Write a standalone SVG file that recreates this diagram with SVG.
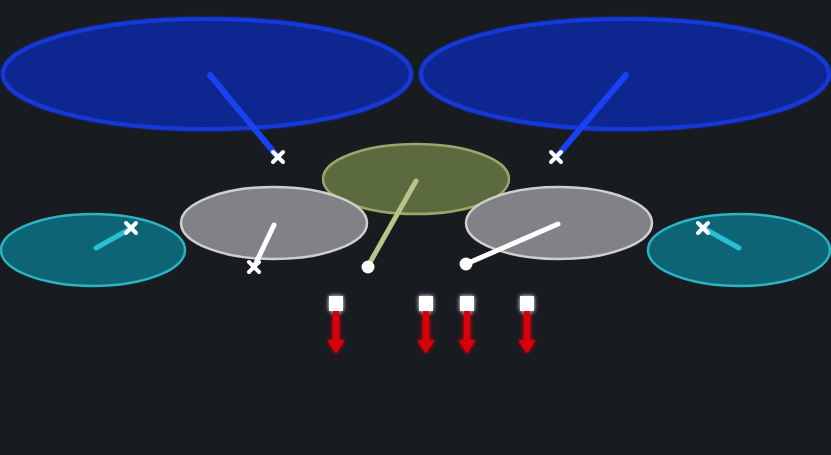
<svg xmlns="http://www.w3.org/2000/svg" width="831" height="455" viewBox="0 0 831 455">
<defs>
<style>
.blue{fill:#102890;stroke:#1538d8;stroke-width:4}
.olive{fill:#5c6a40;stroke:#98a868;stroke-width:2.5}
.gray{fill:#808285;stroke:#cfcfcf;stroke-width:2.5}
.cyan{fill:#0d6474;stroke:#2ab4c4;stroke-width:2.5}
.x{stroke:#ffffff;stroke-width:4;stroke-linecap:round}
.sq{fill:#ffffff}
.red{stroke:#d8000f;stroke-width:6.5}
.redh{fill:#d8000f;stroke:#d8000f;stroke-width:2;stroke-linejoin:round}
</style>
<filter id="glow" x="-50%" y="-50%" width="200%" height="200%">
<feGaussianBlur stdDeviation="2" result="b"/>
<feMerge><feMergeNode in="b"/><feMergeNode in="SourceGraphic"/></feMerge>
</filter>
<filter id="soft" x="-10%" y="-10%" width="120%" height="120%">
<feGaussianBlur stdDeviation="1.2" result="b"/>
<feMerge><feMergeNode in="b"/><feMergeNode in="SourceGraphic"/></feMerge>
</filter>
</defs>
<rect width="831" height="455" fill="#181b20"/>
<g id="cymbal-left" filter="url(#soft)"><ellipse class="blue" cx="207" cy="74" rx="204" ry="55"/></g>
<g id="cymbal-right" filter="url(#soft)"><ellipse class="blue" cx="625" cy="74" rx="204" ry="55"/></g>
<g id="tom-center"><ellipse class="olive" cx="416" cy="179" rx="93" ry="35"/></g>
<g id="tom-left"><ellipse class="gray" cx="274" cy="223" rx="93" ry="36"/></g>
<g id="tom-right"><ellipse class="gray" cx="559" cy="223" rx="93" ry="36"/></g>
<g id="hihat-left"><ellipse class="cyan" cx="93" cy="250" rx="92" ry="36"/></g>
<g id="hihat-right"><ellipse class="cyan" cx="739" cy="250" rx="91" ry="36"/></g>
<g id="connectors" stroke-linecap="round">
<line x1="210" y1="75" x2="276" y2="155" stroke="#1a42f0" stroke-width="6"/>
<line x1="626" y1="75" x2="558" y2="155" stroke="#1a42f0" stroke-width="6"/>
<line x1="416" y1="181" x2="368" y2="266" stroke="#b6c68a" stroke-width="5"/>
<line x1="274" y1="225" x2="255" y2="265" stroke="#ffffff" stroke-width="5"/>
<line x1="558" y1="224" x2="466" y2="264" stroke="#ffffff" stroke-width="5"/>
<line x1="96" y1="248" x2="130" y2="229" stroke="#28c0d4" stroke-width="5"/>
<line x1="739" y1="248" x2="705" y2="229" stroke="#28c0d4" stroke-width="5"/>
<circle cx="368" cy="267" r="6.5" fill="#ffffff"/>
<circle cx="466" cy="264" r="6.5" fill="#ffffff"/>
<path class="x" d="M273 152l10 10M283 152l-10 10"/>
<path class="x" d="M551 152l10 10M561 152l-10 10"/>
<path class="x" d="M249 262l10 10M259 262l-10 10"/>
<path class="x" d="M126 223l10 10M136 223l-10 10"/>
<path class="x" d="M698 223l10 10M708 223l-10 10"/>
</g>
<g id="arrow-1" filter="url(#glow)"><line class="red" x1="336" y1="310" x2="336" y2="342"/><path class="redh" d="M329 341h14l-7 11z"/><rect class="sq" x="329" y="296" width="14" height="15"/></g>
<g id="arrow-2" filter="url(#glow)"><line class="red" x1="426" y1="310" x2="426" y2="342"/><path class="redh" d="M419 341h14l-7 11z"/><rect class="sq" x="419" y="296" width="14" height="15"/></g>
<g id="arrow-3" filter="url(#glow)"><line class="red" x1="467" y1="310" x2="467" y2="342"/><path class="redh" d="M460 341h14l-7 11z"/><rect class="sq" x="460" y="296" width="14" height="15"/></g>
<g id="arrow-4" filter="url(#glow)"><line class="red" x1="527" y1="310" x2="527" y2="342"/><path class="redh" d="M520 341h14l-7 11z"/><rect class="sq" x="520" y="296" width="14" height="15"/></g>
</svg>
